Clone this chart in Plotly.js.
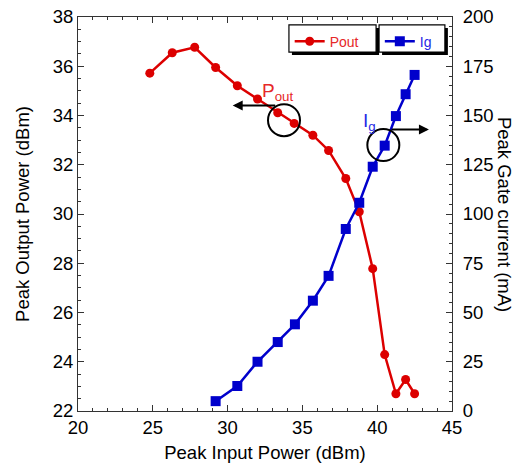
<!DOCTYPE html>
<html>
<head>
<meta charset="utf-8">
<script src="https://cdn.plot.ly/plotly-3.0.1.min.js"></script>
<style>html,body{margin:0;padding:0;background:#fff;}#chart{width:520px;height:467px;}</style>
</head>
<body>
<div id="chart"></div>
<script>
const inputPowerPout = [24.8, 26.3, 27.8, 29.2, 30.65, 32.0, 33.35, 34.45, 35.7, 36.75, 37.9, 38.8, 39.7, 40.5, 41.25, 41.9, 42.5];
const poutValues = [35.72, 36.55, 36.77, 35.95, 35.21, 34.67, 34.11, 33.68, 33.2, 32.58, 31.44, 30.09, 27.78, 24.29, 22.7, 23.28, 22.7];
const inputPowerIg = [29.2, 30.65, 32.0, 33.35, 34.5, 35.7, 36.75, 37.9, 38.8, 39.7, 40.5, 41.25, 41.9, 42.5];
const igValues = [5, 12.7, 25, 35, 44, 56, 68.6, 92.4, 105.7, 124, 134.7, 149.7, 160.8, 170.6];

const RED = 'rgb(220,0,0)';
const BLUE = 'rgb(0,0,204)';
const FONT = 'Liberation Sans, Arial, sans-serif';

const traces = [
  {x: inputPowerPout, y: poutValues, type: 'scatter', mode: 'lines+markers', name: 'Pout',
   line: {color: RED, width: 2.5}, marker: {color: RED, symbol: 'circle', size: 9},
   xaxis: 'x', yaxis: 'y', legend: 'legend'},
  {x: inputPowerIg, y: igValues, type: 'scatter', mode: 'lines+markers', name: 'Ig',
   line: {color: BLUE, width: 2.5}, marker: {color: BLUE, symbol: 'square', size: 10},
   xaxis: 'x', yaxis: 'y2', legend: 'legend2'}
];

const pw = 374, ph = 394;
function box(x0, x1, y0, y1) {
  const dx = 3 / pw, dy = 3 / ph;
  return [
    {type: 'rect', xref: 'paper', yref: 'paper', x0: x0 + dx, x1: x1 + dx, y0: y0 - dy, y1: y1 - dy,
     fillcolor: '#000', line: {width: 0}, layer: 'above'},
    {type: 'rect', xref: 'paper', yref: 'paper', x0: x0, x1: x1, y0: y0, y1: y1,
     fillcolor: '#fff', line: {color: '#000', width: 1.2}, layer: 'above'}
  ];
}

const shapes = [].concat(
  box(0.564, 0.797, 0.911, 0.980),
  box(0.805, 0.981, 0.911, 0.980),
  [
    {type: 'circle', xref: 'x', yref: 'y', xsizemode: 'pixel', ysizemode: 'pixel',
     xanchor: 33.77, yanchor: 33.81, x0: -16, x1: 16, y0: -16, y1: 16,
     line: {color: '#000', width: 2}},
    {type: 'circle', xref: 'x', yref: 'y', xsizemode: 'pixel', ysizemode: 'pixel',
     xanchor: 40.41, yanchor: 32.8, x0: -16, x1: 16, y0: -16, y1: 16,
     line: {color: '#000', width: 2}}
  ]
);

const annotations = [
  {x: 30.34, y: 34.41, ax: 33.28, ay: 34.41, xref: 'x', yref: 'y', axref: 'x', ayref: 'y',
   text: '', showarrow: true, arrowhead: 2, arrowsize: 1, arrowwidth: 2, arrowcolor: '#000'},
  {x: 43.46, y: 33.43, ax: 40.86, ay: 33.43, xref: 'x', yref: 'y', axref: 'x', ayref: 'y',
   text: '', showarrow: true, arrowhead: 2, arrowsize: 1, arrowwidth: 2, arrowcolor: '#000'},
  {x: 33.35, y: 34.95, xref: 'x', yref: 'y', text: 'P<sub>out</sub>', showarrow: false,
   font: {family: FONT, size: 19, color: 'rgb(230,40,40)'}},
  {x: 39.5, y: 33.73, xref: 'x', yref: 'y', text: 'I<sub>g</sub>', showarrow: false,
   font: {family: FONT, size: 19, color: 'rgb(40,40,230)'}},
  {x: 1.142, y: 0.5, xref: 'paper', yref: 'paper', xanchor: 'center', yanchor: 'middle',
   text: 'Peak Gate current (mA)', textangle: 90,
   showarrow: false, font: {family: FONT, size: 18.5, color: '#000'}}
];

const layout = {
  width: 520, height: 467,
  margin: {l: 78, r: 68, t: 17, b: 56},
  paper_bgcolor: '#fff', plot_bgcolor: '#fff',
  font: {family: FONT, size: 18.5, color: '#000'},
  showlegend: true,
  xaxis: {
    range: [20, 45], dtick: 5, tick0: 20, ticks: 'inside', ticklen: 6, tickcolor: '#333',
    showline: true, linecolor: '#333', linewidth: 1, mirror: 'ticks', showgrid: false, zeroline: false,
    minor: {dtick: 1, ticks: 'inside', ticklen: 3, tickcolor: '#333'},
    title: {text: 'Peak Input Power (dBm)', font: {family: FONT, size: 18.5}, standoff: 8},
    tickfont: {family: FONT, size: 18.5}
  },
  yaxis: {
    range: [22, 38], dtick: 2, tick0: 22, ticks: 'inside', ticklen: 6, tickcolor: '#333',
    showline: true, linecolor: '#333', linewidth: 1, showgrid: false, zeroline: false,
    minor: {dtick: 0.5, ticks: 'inside', ticklen: 3, tickcolor: '#333'},
    title: {text: 'Peak Output Power (dBm)', font: {family: FONT, size: 18.5}, standoff: 18},
    tickfont: {family: FONT, size: 18.5}
  },
  yaxis2: {
    range: [0, 200], dtick: 25, tick0: 0, ticks: 'inside', ticklen: 6, tickcolor: '#333',
    overlaying: 'y', side: 'right', anchor: 'x', ticklabelstandoff: 6,
    showline: true, linecolor: '#333', linewidth: 1, showgrid: false, zeroline: false,
    minor: {dtick: 5, ticks: 'inside', ticklen: 3, tickcolor: '#333'},
    tickfont: {family: FONT, size: 18.5}
  },
  legend: {x: 0.566, y: 0.978, xanchor: 'left', yanchor: 'top', bgcolor: 'rgba(0,0,0,0)',
           borderwidth: 0, font: {family: FONT, size: 14, color: 'rgb(230,40,40)'}},
  legend2: {x: 0.807, y: 0.978, xanchor: 'left', yanchor: 'top', bgcolor: 'rgba(0,0,0,0)',
           borderwidth: 0, font: {family: FONT, size: 14, color: 'rgb(40,40,230)'}},
  shapes: shapes,
  annotations: annotations
};

Plotly.newPlot('chart', traces, layout, {displayModeBar: false, staticPlot: true});
</script>
</body>
</html>
